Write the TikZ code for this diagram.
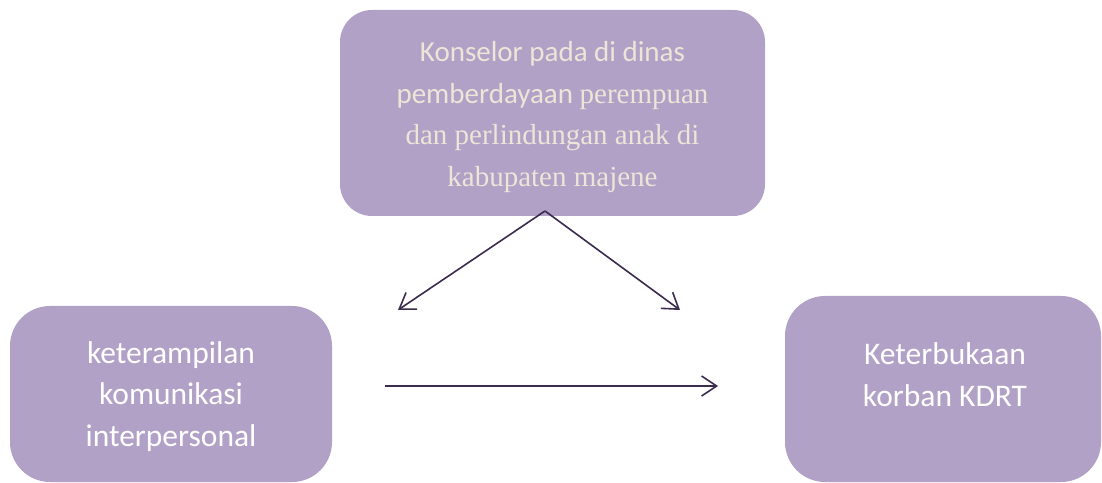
\documentclass[tikz,border=0pt]{standalone}
\usepackage{fontspec}
\setmainfont{Carlito}
\newfontfamily\tnr{Liberation Serif}
\usetikzlibrary{arrows.meta}
\definecolor{boxfill}{HTML}{B1A1C7}
\definecolor{linecol}{HTML}{3B2C4E}
\definecolor{cream}{HTML}{EDE5D8}
\begin{document}
\begin{tikzpicture}[x=1pt,y=1pt,
  pbox/.style={fill=boxfill,draw=none,inner sep=0pt},
  ptext/.style={inner sep=0pt,align=center},
  conn/.style={draw=linecol,line width=1.6pt,-{Straight Barb[length=15pt,width=20pt,line width=1.6pt]}}]
\useasboundingbox (0,0) rectangle (1102,482);
% top box
\node[pbox,rounded corners=32pt,minimum width=425pt,minimum height=206pt] (top) at (552.5,369) {};
\node[ptext,text=cream,font=\fontsize{29}{41.5}\selectfont] (toptext) at (552.5,365)
  {Konselor pada di dinas\\
   pemberdayaan {\tnr perempuan}\\
   {\tnr dan perlindungan anak di}\\
   {\tnr kabupaten majene}};
% left box
\node[pbox,rounded corners=40pt,minimum width=322pt,minimum height=176pt] (left) at (171,88) {};
\node[ptext,text=white,font=\fontsize{31.5}{41.5}\selectfont] (lefttext) at (171,85.5)
  {keterampilan\\komunikasi\\interpersonal};
% right box
\node[pbox,rounded corners=40pt,minimum width=316pt,minimum height=186pt] (right) at (943,93) {};
\node[ptext,text=white,font=\fontsize{31.5}{42}\selectfont] (righttext) at (945,107.5)
  {Keterbukaan\\korban KDRT};
% connectors
\coordinate (o) at (545,271);
\coordinate (lt) at (398,172);
\coordinate (rt) at (680,172);
\coordinate (hs) at (385,96);
\coordinate (he) at (718,96);
\draw[conn] (o) -- (lt);
\draw[conn] (o) -- (rt);
\draw[conn] (hs) -- (he);
\end{tikzpicture}
\end{document}
